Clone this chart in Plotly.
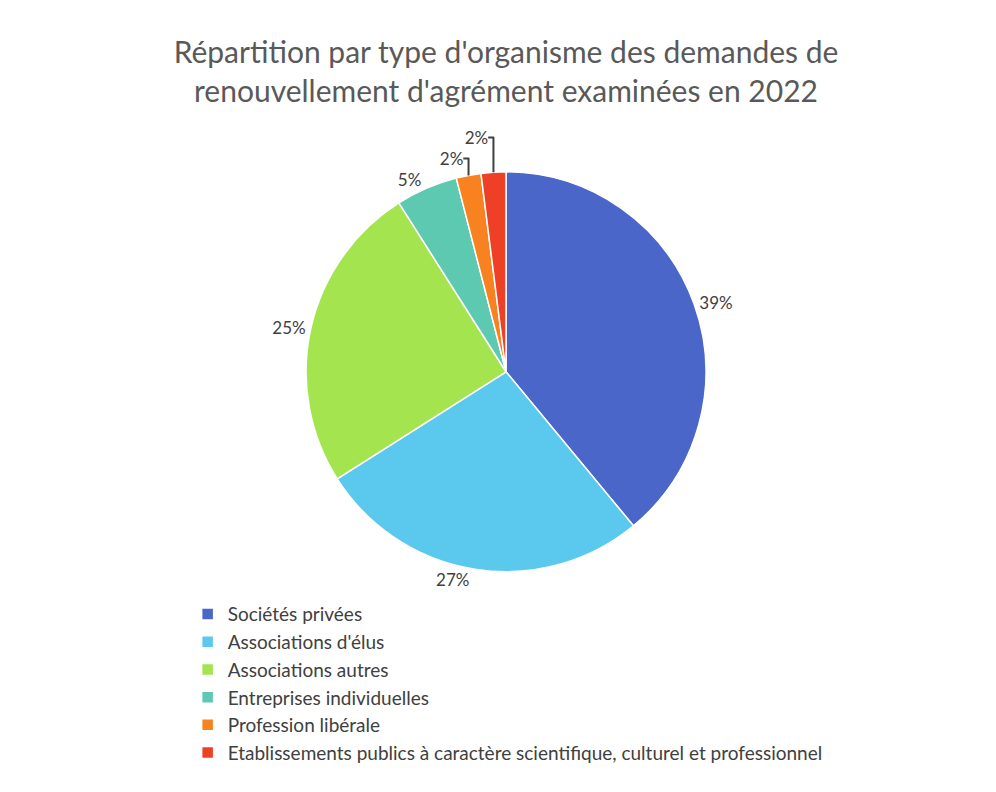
import plotly.graph_objects as go

categories = [
    "Sociétés privées",
    "Associations d'élus",
    "Associations autres",
    "Entreprises individuelles",
    "Profession libérale",
    "Etablissements publics à caractère scientifique, culturel et professionnel",
]
values = [39, 27, 25, 5, 2, 2]
labels_pct = ["39%", "27%", "25%", "5%", "2%", "2%"]
colors = ["#4A66C8", "#5BC8EE", "#A4E44F", "#5CC9B0", "#F7821F", "#EE4026"]

fig = go.Figure(
    go.Pie(
        labels=categories,
        values=values,
        text=labels_pct,
        textinfo="text",
        textposition="outside",
        sort=False,
        direction="clockwise",
        rotation=0,
        marker=dict(colors=colors, line=dict(color="white", width=1.5)),
        textfont=dict(size=17, color="#404040"),
        domain=dict(x=[0.1, 0.9], y=[0.31, 0.905]),
        hoverinfo="label+percent",
    )
)

fig.update_layout(
    width=996,
    height=792,
    paper_bgcolor="white",
    font=dict(family="Lato, Open Sans, sans-serif", color="#404040"),
    title=dict(
        text="Répartition par type d'organisme des demandes de<br>renouvellement d'agrément examinées en 2022",
        x=0.5,
        xanchor="center",
        xref="paper",
        yref="container",
        y=0.93,
        yanchor="middle",
        font=dict(size=30, color="#595959"),
    ),
    margin=dict(t=100, b=20, l=20, r=20, autoexpand=False),
    showlegend=True,
    legend=dict(
        orientation="v",
        x=0.167,
        xanchor="left",
        y=0.275,
        yanchor="top",
        itemwidth=30,
        font=dict(size=19, color="#404040"),
        itemclick=False,
    ),
)

fig.write_html("out.html")
